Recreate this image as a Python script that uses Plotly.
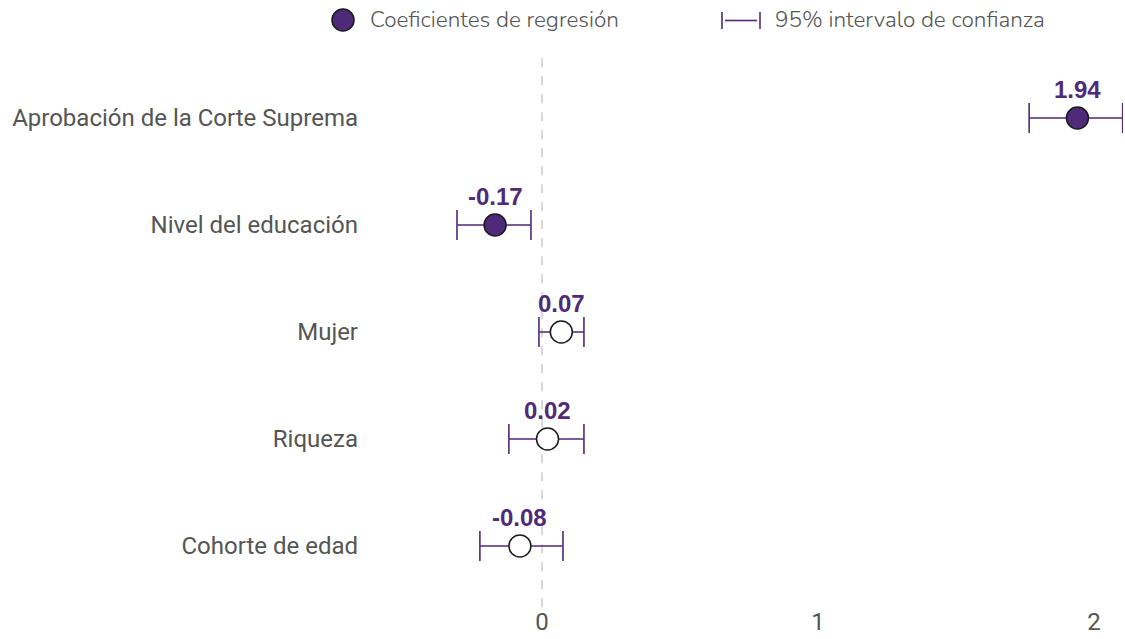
import plotly.graph_objects as go

categories = ["Aprobación de la Corte Suprema", "Nivel del educación", "Mujer", "Riqueza", "Cohorte de edad"]
coefs = [1.94, -0.17, 0.07, 0.02, -0.08]
ci_low = [1.765, -0.308, -0.011, -0.12, -0.225]
ci_high = [2.104, -0.04, 0.152, 0.152, 0.076]
significant = [True, True, False, False, False]
labels = ["1.94", "-0.17", "0.07", "0.02", "-0.08"]
x_ticks = [0, 1, 2]

PURPLE = "#4f2a78"
GRAY = "#555555"

FW, FH = 1125, 639

n = len(categories)
ypos = [n - 1 - i for i in range(n)]

fig = go.Figure()
fig.add_trace(go.Scatter(
    x=coefs, y=ypos, mode="markers",
    marker=dict(size=22, color=[PURPLE if s else "white" for s in significant],
                line=dict(color="#1a1a1a", width=1.5)),
    error_x=dict(type="data", symmetric=False,
                 array=[h - c for h, c in zip(ci_high, coefs)],
                 arrayminus=[c - l for c, l in zip(coefs, ci_low)],
                 color=PURPLE, thickness=1.6, width=15),
    showlegend=False, hoverinfo="skip", cliponaxis=False,
))

for c, y, t in zip(coefs, ypos, labels):
    fig.add_annotation(x=c, y=y, text=t, showarrow=False, yshift=29,
                       font=dict(family="Liberation Sans, Arial", size=24, color=PURPLE, weight="bold"))

# zero reference line
fig.add_shape(type="line", xref="x", yref="paper", x0=0, x1=0, y0=-0.015, y1=0.995,
              line=dict(color="#cccccc", width=1.5, dash="dash"), layer="below")

# page pixel geometry of the plot area
L, W = 371, 752
T, H = 50, 549
def px(xp):
    return (xp - L) / W
def py(yp):
    return 1 + (T - yp) / H

fig.add_shape(type="circle", xref="paper", yref="paper", xsizemode="pixel", ysizemode="pixel",
              xanchor=px(343), yanchor=py(20), x0=-11, x1=11, y0=-11, y1=11,
              fillcolor=PURPLE, line=dict(color="#1a1a1a", width=1.5))
fig.add_annotation(xref="paper", yref="paper", x=px(368), y=py(20), xanchor="left", yanchor="middle",
                   text="Coeficientes de regresión", showarrow=False,
                   font=dict(family="Nunito, Lato, Open Sans", size=22.5, color=GRAY, weight=300))
for x0, x1, y0, y1 in [(722, 722, 12, 29), (760, 760, 12, 29), (725, 757, 20.5, 20.5)]:
    fig.add_shape(type="line", xref="paper", yref="paper", x0=px(x0), x1=px(x1), y0=py(y0), y1=py(y1),
                  line=dict(color=PURPLE, width=1.6))
fig.add_annotation(xref="paper", yref="paper", x=px(773), y=py(20), xanchor="left", yanchor="middle",
                   text="95% intervalo de confianza", showarrow=False,
                   font=dict(family="Nunito, Lato, Open Sans", size=22.5, color=GRAY, weight=300))

x0_px = 542
ppu = 276
fig.update_layout(
    width=FW, height=FH,
    margin=dict(l=L, r=FW - L - W, t=T, b=FH - T - H),
    plot_bgcolor="white", paper_bgcolor="white",
    xaxis=dict(range=[-(x0_px - L) / ppu, (L + W - x0_px) / ppu],
               tickvals=x_ticks, ticktext=[str(v) for v in x_ticks],
               showgrid=False, zeroline=False, showline=False,
               tickfont=dict(family="Roboto", size=24, color=GRAY), ticklabelstandoff=6),
    yaxis=dict(range=[(546 - (T + H)) / 107, (546 - T) / 107],
               tickvals=ypos, ticktext=categories,
               showgrid=False, zeroline=False, showline=False,
               tickfont=dict(family="Roboto", size=24, color=GRAY), ticklabelstandoff=12),
    showlegend=False,
)

fig.write_html("out.html", config={"displayModeBar": False},
               post_script="document.body.style.margin='0';document.body.style.overflow='hidden';")
